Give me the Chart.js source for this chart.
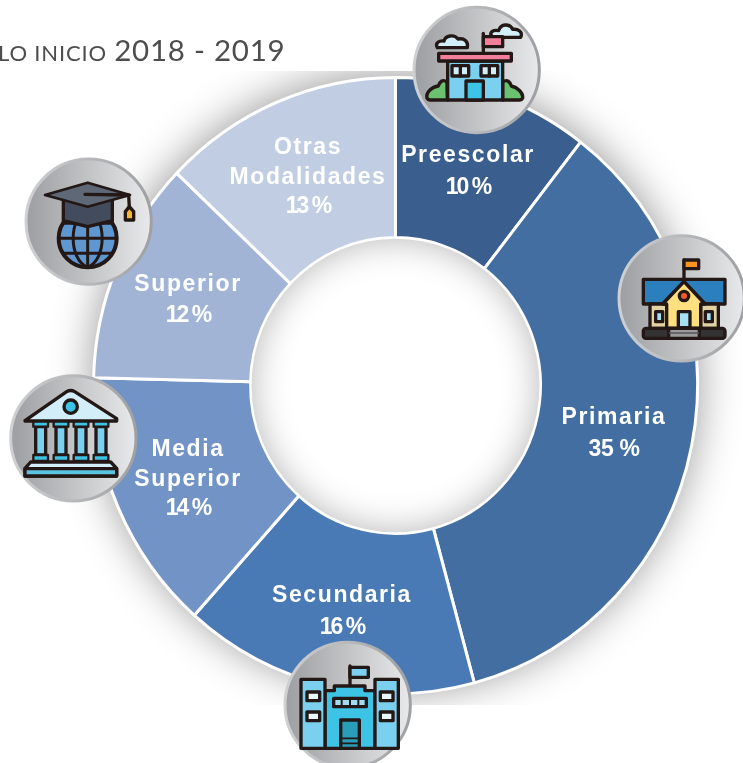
<!DOCTYPE html>
<html lang="es">
<head>
<meta charset="utf-8">
<title>Ciclo inicio 2018 - 2019</title>
<script src="https://cdn.jsdelivr.net/npm/chart.js@4"></script>
<style>
html,body{margin:0;padding:0;background:#fff;overflow:hidden}
#wrap{position:relative;width:743px;height:763px;overflow:hidden}
canvas{position:absolute;left:0;top:0}
#icons{position:absolute;left:0;top:0;width:743px;height:763px}
#title{position:absolute;left:-2px;top:29px;white-space:nowrap;color:#4d4d4f;font-family:Lato,sans-serif;line-height:42px}
#title .a{font-size:22px;letter-spacing:.85px}
#title .b{font-size:29.5px;letter-spacing:.75px;margin-left:3px}
</style>
</head>
<body>
<div id="wrap">
<canvas id="c" width="743" height="763"></canvas>
<div id="title"><span class="a">LO INICIO</span> <span class="b">2018 - 2019</span></div>
<svg id="icons" viewBox="0 0 743 763" xmlns="http://www.w3.org/2000/svg">
<defs>
<linearGradient id="bf" x1="0" x2="1" y1="0" y2="0"><stop offset="0" stop-color="#9c9ea1"/><stop offset="1" stop-color="#e8e9ea"/></linearGradient>
<linearGradient id="bs" x1="0" x2="1" y1="0" y2="0"><stop offset="0" stop-color="#cfd0d2"/><stop offset="1" stop-color="#9fa0a3"/></linearGradient>
</defs>
<g stroke="#231815" stroke-width="10" stroke-linejoin="round" stroke-linecap="round">
<!-- Preescolar -->
<g transform="translate(380,0) scale(.33333)">
<circle cx="290" cy="210" r="188" fill="url(#bf)" stroke="url(#bs)" stroke-width="9"/>
<path d="M172 143c-8-14 6-22 20-20 4-16 30-22 42-6 18-4 32 8 28 26z" fill="#d2eef9"/>
<path d="M332 102c2-12 16-12 24-10 6-22 34-22 42-4 16-2 32 8 24 24l-84 0z" fill="#d2eef9"/>
<path d="M310 160V100" fill="none"/>
<rect x="310" y="110" width="58" height="30" fill="#f47f9a"/>
<path d="M203 300c-2-6-2-50-2-54-14-10-22 0-26 12-20 2-38 20-34 36 2 4 6 6 10 6z" fill="#6cc170"/>
<path d="M368 300V246c14-10 22 0 26 12 18 4 36 20 34 36-2 4-6 6-10 6z" fill="#6cc170"/>
<rect x="203" y="183" width="165" height="117" fill="#7bd0ef"/>
<rect x="176" y="160" width="218" height="23" fill="#f47f9a"/>
<rect x="216" y="197" width="50" height="31" fill="#d2eef9"/><path d="M241 197v31" fill="none"/>
<rect x="303" y="197" width="50" height="31" fill="#d2eef9"/><path d="M328 197v31" fill="none"/>
<rect x="258" y="243" width="52" height="57" fill="#3dc3e5"/>
</g>
<!-- Primaria -->
<g transform="translate(380,0) scale(.33333)">
<circle cx="905" cy="895" r="188" fill="url(#bf)" stroke="url(#bs)" stroke-width="9"/>
<path d="M912 845V780" fill="none"/>
<rect x="912" y="780" width="44" height="26" fill="#f7931e"/>
<path d="M790 838H1035V912H975L912 845 848 912H790z" fill="#2b7fbc"/>
<rect x="810" y="912" width="52" height="73" fill="#e3d3a3"/>
<rect x="962" y="912" width="53" height="73" fill="#e3d3a3"/>
<rect x="827" y="935" width="21" height="30" fill="#a5e0f5"/>
<rect x="976" y="935" width="21" height="30" fill="#a5e0f5"/>
<path d="M912 845 975 912H962V985H860V912H848z" fill="#ffdf7e"/>
<circle cx="912" cy="888" r="14" fill="#f15a24"/>
<rect x="895" y="935" width="35" height="48" fill="#a5e0f5"/>
<rect x="790" y="985" width="245" height="30" rx="8" fill="#333"/>
<rect x="866" y="985" width="92" height="30" fill="#9a9b9d"/>
<path d="M868 999H956" fill="none" stroke-width="4" stroke="#555"/>
</g>
<!-- Superior -->
<g transform="scale(.33333)">
<circle cx="266" cy="665" r="188" fill="url(#bf)" stroke="url(#bs)" stroke-width="9"/>
<circle cx="263" cy="715" r="87" fill="#5f97d0" stroke-width="12"/>
<path d="M178 715H348M190 670H336M190 760H336M263 628V802" fill="none" stroke-width="9"/>
<path d="M263 628C205 650 205 780 263 802C321 780 321 650 263 628Z" fill="none" stroke-width="9"/>
<path d="M190 600V662L263 680 337 662V600z" fill="#434c5c"/>
<path d="M135 585 263 548 390 585 263 620z" fill="#5f6877" stroke-width="8"/>
<path d="M255 583 386 585 388 622" fill="none"/>
<path d="M376 635 388 620 401 635V660H376z" fill="#f7b733"/>
</g>
<!-- Media Superior -->
<g transform="translate(0,360) scale(.33333)">
<circle cx="220" cy="235" r="188" fill="url(#bf)" stroke="url(#bs)" stroke-width="9"/>
<path d="M75 182 200 95Q212 88 224 95L350 176V183H75z" fill="#d2eef9"/>
<circle cx="212" cy="140" r="20" fill="#3dc3e5"/>
<g id="col">
<rect x="107" y="200" width="30" height="85" fill="#7bd0ef"/>
<rect x="168" y="200" width="30" height="85" fill="#7bd0ef"/>
<rect x="228" y="200" width="30" height="85" fill="#7bd0ef"/>
<rect x="288" y="200" width="30" height="85" fill="#7bd0ef"/>
<path d="M100 185H144V200H100zM161 185H205V200H161zM221 185H265V200H221zM281 185H325V200H281z" fill="#3dc3e5" stroke-width="7"/>
<path d="M100 285H144V303H100zM161 285H205V303H161zM221 285H265V303H221zM281 285H325V303H281z" fill="#3dc3e5" stroke-width="7"/>
</g>
<path d="M92 306H332L350 325V348H75V325z" fill="#d2eef9"/>
<rect x="75" y="326" width="275" height="22" fill="#5bc4e0"/>
</g>
<!-- Secundaria -->
<g transform="translate(0,360) scale(.33333)">
<circle cx="1043" cy="1035" r="188" fill="url(#bf)" stroke="url(#bs)" stroke-width="9"/>
<path d="M1050 975V918" fill="none"/>
<rect x="1050" y="922" width="55" height="30" fill="#7bd0ef"/>
<path d="M975 992H1003V978H1095V992H1125V1165H975z" fill="#3dc3e5"/>
<rect x="903" y="958" width="72" height="207" fill="#7bd0ef"/>
<rect x="1125" y="958" width="70" height="207" fill="#7bd0ef"/>
<rect x="921" y="996" width="38" height="26" fill="#e9f6fb"/>
<rect x="921" y="1056" width="38" height="26" fill="#e9f6fb"/>
<rect x="1141" y="996" width="38" height="26" fill="#e9f6fb"/>
<rect x="1141" y="1056" width="38" height="26" fill="#e9f6fb"/>
<rect x="1001" y="1015" width="98" height="25" fill="#9fdcf2"/>
<path d="M1025 1015V1040M1050 1015V1040M1075 1015V1040" fill="none" stroke-width="6"/>
<rect x="1022" y="1080" width="56" height="85" fill="#2a9db8"/>
<path d="M1024 1135H1076M1024 1150H1076" fill="none" stroke-width="5"/>
</g>
</g>
</svg>
</div>
<script>
const categories = ["Preescolar", "Primaria", "Secundaria", "Media Superior", "Superior", "Otras Modalidades"];
const sliceShares = [10.5, 35.3, 15.8, 13.8, 11.7, 12.9];
const percentLabels = ["10 %", "35 %", "16 %", "14 %", "12 %", "13 %"];
const labelLines = [["Preescolar"], ["Primaria"], ["Secundaria"], ["Media", "Superior"], ["Superior"], ["Otras", "Modalidades"]];
const sliceColors = ["#3a5e8e", "#426ea2", "#4a7ab5", "#7293c5", "#a1b4d6", "#c1cde2"];

const labelBoxes = [
  {x: 468, y: 162, step: 32},
  {x: 614, y: 424, step: 32},
  {x: 342, y: 602, step: 32},
  {x: 188, y: 456, step: 30},
  {x: 188, y: 291, step: 31},
  {x: 308, y: 154, step: 30}
];
const yStretch = 1.02;

function ellipsePath(ctx, el, r) {
  ctx.beginPath();
  ctx.ellipse(el.x, el.y, r, r * yStretch, 0, 0, Math.PI * 2);
}

const ringPlugin = {
  id: "ringPlugin",
  beforeDatasetsDraw(chart) {
    const ctx = chart.ctx;
    const el = chart.getDatasetMeta(0).data[0];
    ctx.save();
    ctx.beginPath();
    ctx.rect(0, 71, chart.width, 634);
    ctx.clip();
    ctx.shadowColor = "rgba(0,0,0,0.42)";
    ctx.shadowBlur = 44;
    ctx.shadowOffsetY = -3;
    ctx.fillStyle = "#fff";
    ellipsePath(ctx, el, el.outerRadius);
    ctx.fill();
    ctx.restore();
    ctx.save();
    ctx.translate(el.x, el.y);
    ctx.scale(1, yStretch);
    ctx.translate(-el.x, -el.y);
  },
  afterDatasetsDraw(chart) {
    const ctx = chart.ctx;
    const meta = chart.getDatasetMeta(0);
    const el = meta.data[0];
    ctx.restore();

    ctx.save();
    ellipsePath(ctx, el, el.innerRadius - 1);
    ctx.clip();
    ctx.shadowColor = "rgba(0,0,0,0.3)";
    ctx.shadowBlur = 36;
    ctx.fillStyle = "#000";
    ctx.beginPath();
    ctx.rect(el.x - 400, el.y - 400, 800, 800);
    ctx.ellipse(el.x, el.y, el.innerRadius, el.innerRadius * yStretch, 0, 0, Math.PI * 2, true);
    ctx.fill("evenodd");
    ctx.restore();

    ctx.save();
    ctx.fillStyle = "#fff";
    ctx.textAlign = "center";
    ctx.textBaseline = "alphabetic";
    ctx.font = "bold 23px 'Liberation Sans', Arial, sans-serif";
    labelBoxes.forEach((box, i) => {
      let y = box.y;
      ctx.letterSpacing = "1.6px";
      labelLines[i].forEach(line => {
        ctx.fillText(line, box.x, y);
        y += box.step;
      });
      ctx.letterSpacing = i === 1 ? "-0.3px" : "-2px";
      ctx.fillText(percentLabels[i], box.x, y - (labelLines[i].length > 1 ? 1 : 0));
    });
    ctx.restore();
  }
};

new Chart(document.getElementById("c"), {
  type: "doughnut",
  data: {
    labels: categories,
    datasets: [{
      data: sliceShares,
      backgroundColor: sliceColors,
      borderColor: "#ffffff",
      borderWidth: 3,
      hoverOffset: 0,
      clip: false
    }]
  },
  options: {
    responsive: false,
    animation: false,
    cutout: "48%",
    layout: {padding: {left: 92, right: 44, top: 82, bottom: 74}},
    plugins: {legend: {display: false}, tooltip: {enabled: false}, title: {display: false}}
  },
  plugins: [ringPlugin]
});
</script>
</body>
</html>
